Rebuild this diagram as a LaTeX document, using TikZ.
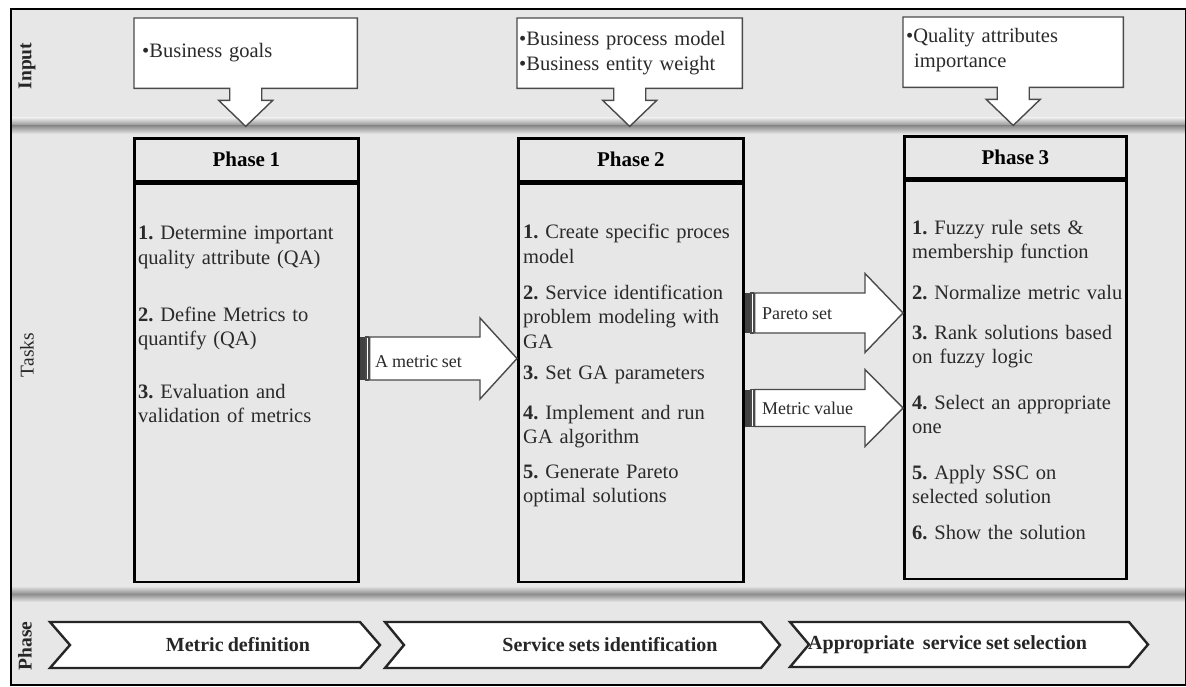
\documentclass[tikz,border=0pt]{standalone}
\usepackage{fontspec}
\setmainfont[WordSpace=0.85]{Liberation Serif}
\usetikzlibrary{calc}
\definecolor{bandgray}{HTML}{E7E7E7}
\definecolor{sepdark}{HTML}{8E8E8E}
\definecolor{inkgray}{HTML}{2A2A2A}
\definecolor{linegray}{HTML}{4A4A4A}

% striped block arrow: tail, tip, body half-height, head half-height, head length
\newcommand{\stripedarrow}[5]{%
  \fill[black!75] ($(#1)+(0,-#3)$) rectangle ($(#1)+(5,#3)$);
  \draw[blockarrow] ($(#1)+(6.5,-#3)$) rectangle ($(#1)+(9,#3)$);
  \draw[blockarrow] ($(#1)+(10,-#3)$) -- ($(#2)+(-#5,-#3)$) -- ($(#2)+(-#5,-#4)$)
    -- (#2) -- ($(#2)+(-#5,#4)$) -- ($(#2)+(-#5,#3)$) -- ($(#1)+(10,#3)$) -- cycle;
}
% chevron: left x, tip x, top y, bottom y, depth
\newcommand{\chevronshape}[5]{%
  \draw[chevron] (#1,#3) -- (#2-#5,#3) -- (#2,{(#3+#4)/2}) -- (#2-#5,#4)
    -- (#1,#4) -- (#1+#5,{(#3+#4)/2}) -- cycle;
}
% input callout outline below a named frame node
\newcommand{\calloutoutline}[1]{%
  \draw[calloutshape] (#1.north west) -- (#1.north east) -- (#1.south east)
    -- ($(#1.south)+(16,0)$) -- ++(0,12) -- ++(11,0) -- ($(#1.south)+(0,38)$)
    -- ($(#1.south)+(-27,12)$) -- ++(11,0) -- ++(0,-12) -- (#1.south west) -- cycle;
}

\begin{document}
\frenchspacing
\begin{tikzpicture}[x=1pt,y=-1pt,
  phasebox/.style={draw=black, line width=2.6pt, inner sep=0pt},
  framenode/.style={anchor=north west, inner sep=0pt, minimum height=70pt},
  calloutshape/.style={draw=linegray, fill=white, line width=1.4pt, line join=miter},
  callouttext/.style={anchor=west, inner sep=0pt, text width=218pt, align=left,
    font=\fontsize{20.5}{25}\selectfont, text=inkgray},
  tasktext/.style={anchor=base west, inner sep=0pt, text width=250pt, align=left,
    font=\fontsize{20.5}{24.5}\selectfont, text=inkgray},
  blockarrow/.style={draw=linegray, fill=white, line width=1.4pt, line join=miter},
  arrowlabel/.style={anchor=base west, inner sep=0pt, font=\fontsize{18}{20}\selectfont, text=inkgray},
  chevron/.style={draw=black!85, fill=white, line width=2.4pt, line join=miter},
  chevlabel/.style={inner sep=0pt, font=\bfseries\fontsize{20}{22}\selectfont, text=black!85},
  rowlabel/.style={rotate=90, inner sep=0pt, font=\fontsize{19.5}{20}\selectfont, text=black!85},
  header/.style={font=\bfseries\fontsize{21}{24}\selectfont}
]
\useasboundingbox (0,0) rectangle (1186,687);
\fill[white] (0,0) rectangle (1186,687);

% row bands and shaded separators
\fill[bandgray] (11,9) rectangle (1186,685);
\shade[top color=bandgray, bottom color=sepdark] (11,118) rectangle (1186,126);
\shade[top color=sepdark, bottom color=bandgray] (11,126) rectangle (1186,134);
\shade[top color=bandgray, bottom color=sepdark] (11,586) rectangle (1186,594);
\shade[top color=sepdark, bottom color=bandgray] (11,594) rectangle (1186,602);
\draw[line width=2.4pt] (11,9) rectangle (1186,685);

% row labels
\node[rowlabel, font=\bfseries\fontsize{19.5}{20}\selectfont] (lblinput) at (27,66) {Input};
\node[rowlabel] (lbltasks) at (27,355) {Tasks};
\node[rowlabel, font=\bfseries\fontsize{19.5}{20}\selectfont] (lblphase) at (25,646) {Phase};

% phase boxes
\node[phasebox, header, anchor=north west, minimum width=224pt, minimum height=43pt] (h1) at (133,137) {Phase 1};
\node[phasebox, anchor=north west, minimum width=224pt, minimum height=398pt] (b1) at (h1.south west) {};
\node[phasebox, header, anchor=north west, minimum width=225pt, minimum height=43pt] (h2) at (517,137) {Phase 2};
\node[phasebox, anchor=north west, minimum width=225pt, minimum height=398pt] (b2) at (h2.south west) {};
\node[phasebox, header, anchor=north west, minimum width=222pt, minimum height=42pt] (h3) at (903,135) {Phase 3};
\node[phasebox, anchor=north west, minimum width=222pt, minimum height=398pt] (b3) at (h3.south west) {};

% phase 1 tasks
\begin{scope}[every node/.append style={font=\fontsize{20.5}{26.5}\selectfont}]
\node[tasktext] (t11) at (138,240) {\textbf{1.} Determine important\\quality attribute (QA)};
\node[tasktext] (t12) at (138,321) {\textbf{2.} Define Metrics to\\quantify (QA)};
\node[tasktext] (t13) at (138,398) {\textbf{3.} Evaluation and\\validation of metrics};
\end{scope}

% phase 2 tasks
\node[tasktext] (t21) at (523,239) {\textbf{1.} Create specific proces\\model};
\node[tasktext] (t22) at (523,299) {\textbf{2.} Service identification\\problem modeling with\\GA};
\node[tasktext] (t23) at (523,379) {\textbf{3.} Set GA parameters};
\node[tasktext] (t24) at (523,419) {\textbf{4.} Implement and run\\GA algorithm};
\node[tasktext] (t25) at (523,478) {\textbf{5.} Generate Pareto\\optimal solutions};

% phase 3 tasks
\node[tasktext] (t31) at (912,234) {\textbf{1.} Fuzzy rule sets \&\\membership function};
\node[tasktext] (t32) at (912,299) {\textbf{2.} Normalize metric valu};
\node[tasktext] (t33) at (912,339) {\textbf{3.} Rank solutions based\\on fuzzy logic};
\node[tasktext] (t34) at (912,409) {\textbf{4.} Select an appropriate\\one};
\node[tasktext] (t35) at (912,479) {\textbf{5.} Apply SSC on\\selected solution};
\node[tasktext] (t36) at (912,539) {\textbf{6.} Show the solution};

% input callouts
\node[framenode, minimum width=223pt] (in1) at (134,18) {};
\calloutoutline{in1}
\node[callouttext] (in1t) at ($(in1.west)+(8,-1)$) {\textbullet Business goals};
\node[framenode, minimum width=225pt] (in2) at (517,18) {};
\calloutoutline{in2}
\node[callouttext] (in2t) at ($(in2.west)+(2,0)$) {\textbullet Business process model\\\textbullet Business entity weight};
\node[framenode, minimum width=220pt] (in3) at (903,17) {};
\calloutoutline{in3}
\node[callouttext] (in3t) at ($(in3.west)+(3,-2)$) {\textbullet Quality attributes\\\hspace*{8pt}importance};

% arrows between phases
\coordinate (ya) at (0,358.5);
\coordinate (yb) at (0,313);
\coordinate (yc) at (0,408);
\coordinate (a1s) at (b1.east |- ya);
\coordinate (a1e) at (b2.west |- ya);
\coordinate (a2s) at (b2.east |- yb);
\coordinate (a2e) at (b3.west |- yb);
\coordinate (a3s) at (b2.east |- yc);
\coordinate (a3e) at (b3.west |- yc);
\stripedarrow{a1s}{a1e}{21.5}{40.5}{37}
\stripedarrow{a2s}{a2e}{20}{39.5}{38}
\stripedarrow{a3s}{a3e}{18.5}{38.5}{38}
\node[arrowlabel] (la1) at (375,367) {A metric set};
\node[arrowlabel] (la2) at (762,319) {Pareto set};
\node[arrowlabel] (la3) at (762,414) {Metric value};

% phase chevrons
\chevronshape{50}{380}{622}{668}{20}
\chevronshape{385}{780}{622}{668}{19}
\chevronshape{790}{1148}{622}{667}{19}
\node[chevlabel] (c1) at (238,645) {Metric definition};
\node[chevlabel] (c2) at (610,645) {Service sets identification};
\node[chevlabel, anchor=west] (c3) at (808,645) {Appropriate\ \ service set selection};
\end{tikzpicture}
\end{document}
